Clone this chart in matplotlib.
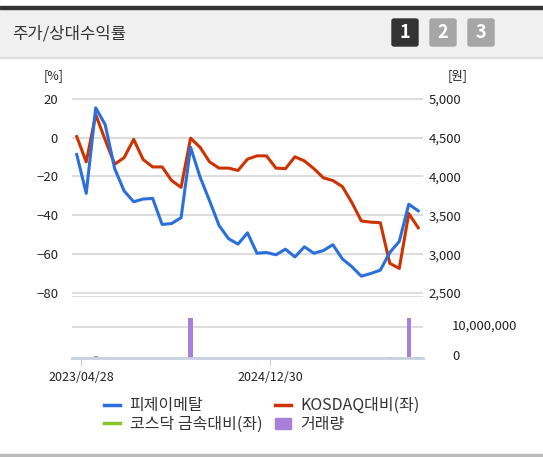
import matplotlib.pyplot as plt
from matplotlib.patches import Rectangle, FancyBboxPatch
from matplotlib.lines import Line2D

plt.rcParams['font.family'] = ['Noto Sans CJK KR', 'DejaVu Sans']

# weekly-ish points, index 0..36
stock = [-8.7, -28.7, 15.3, 6.6, -16, -27.5, -33, -31.6, -31.3, -44.7, -44.2, -41.2,
         -5, -20.3, -32.5, -45.2, -52, -54.8, -49, -59.5, -59.1, -60.3, -57.4, -61.4,
         -56.2, -59.5, -58.1, -55.1, -62.4, -66.4, -71.3, -69.9, -68.2, -59.1, -53.4,
         -34.3, -37.7]
kosdaq = [0.5, -12.5, 11.8, -1.2, -13.7, -10.3, -0.9, -11.3, -15.1, -15.1, -22.1, -25.6,
          -0.3, -5, -12.5, -15.7, -15.7, -16.9, -11.1, -9.4, -9.4, -15.7, -16, -9.9,
          -12, -16, -20.7, -22.1, -25.2, -33.4, -42.9, -43.5, -43.8, -64.7, -67.3,
          -39.1, -46.4]
volume = [0, 0, 500000, 0, 0, 0, 0, 0, 0, 0, 0, 0,
          13000000, 300000, 0, 0, 0, 0, 0, 0, 0, 0, 0, 0,
          0, 0, 0, 0, 0, 0, 0, 0, 0, 300000, 0, 13000000, 300000]
x = list(range(len(stock)))
tick_pos = [0.45, 20.4]
tick_labels = ['2023/04/28', '2024/12/30']

W, H = 543, 457
fig = plt.figure(figsize=(W / 100, H / 100), dpi=100)

def fx(px):
    return px / W

def fy(py):
    return 1 - py / H

# header
fig.patches.append(Rectangle((0, fy(57)), 1, 49 / H, transform=fig.transFigure, color='#f0f0f0'))
fig.patches.append(Rectangle((0, fy(9)), 1, 3 / H, transform=fig.transFigure, color='#333333'))
fig.patches.append(Rectangle((0, fy(58)), 1, 1 / H, transform=fig.transFigure, color='#dddddd'))
fig.patches.append(Rectangle((0, 0), 1, 3 / H, transform=fig.transFigure, color='#bbbbbb'))
fig.text(fx(12), fy(34), '주가/상대수익률', fontsize=12, color='#333333', va='center')
for i, (bx, c) in enumerate([(392, '#333333'), (430, '#a6a6a6'), (468, '#a6a6a6')]):
    fig.patches.append(FancyBboxPatch((fx(bx), fy(46)), 26 / W, 27 / H, transform=fig.transFigure,
                                      boxstyle='round,pad=0,rounding_size=0.004', color=c))
    fig.text(fx(bx + 13), fy(33), str(i + 1), color='white', fontsize=13, fontweight='bold',
             ha='center', va='center')

# main axes
ax = fig.add_axes([fx(72), fy(297), (423 - 72) / W, (297 - 88) / H])
ax.set_xlim(-0.5, 36.5)
ax.set_ylim(-82, 25.5)
for v in [20, 0, -20, -40, -60, -80]:
    ax.axhline(v, color='#dddddd', lw=1.5, zorder=0)
ax.plot(x, stock, color='#2a6fdb', lw=2.2, zorder=3)
ax.plot(x, kosdaq, color='#cc3300', lw=2.2, zorder=2)
ax.set_yticks([20, 0, -20, -40, -60, -80])
ax.tick_params(axis='y', length=0, labelsize=9.5, colors='#222222', pad=10)
ax.set_xticks([])
for s in ax.spines.values():
    s.set_visible(False)
ax.axhline(-82, color='#dddddd', lw=1.5)
ax2 = ax.twinx()
ax2.set_ylim(4500 + 25 * -82, 4500 + 25 * 25.5)
ax2.set_yticks([5000, 4500, 4000, 3500, 3000, 2500])
ax2.set_yticklabels(['5,000', '4,500', '4,000', '3,500', '3,000', '2,500'])
ax2.tick_params(axis='y', length=0, labelsize=9.5, colors='#222222', pad=4)
for s in ax2.spines.values():
    s.set_visible(False)
fig.text(fx(44), fy(76), '[%]', fontsize=9, color='#222222', va='center')
fig.text(fx(448), fy(76), '[원]', fontsize=9, color='#222222', va='center')

# volume axes
vx = fig.add_axes([fx(72), fy(358), (423 - 72) / W, (358 - 318) / H])
vx.set_xlim(-0.5, 36.5)
vx.set_ylim(0, 13000000)
vx.bar(x, volume, width=0.45, color='#a97fdc')
vx.axhline(10000000, color='#dddddd', lw=1.5, zorder=0)
vx.set_yticks([])
vx.set_xticks(tick_pos)
vx.set_xticklabels(tick_labels)
vx.tick_params(axis='x', length=6, color='#c8d0e0', labelsize=9, colors='#222222')
for s in vx.spines.values():
    s.set_visible(False)
vx.spines['bottom'].set_visible(True)
vx.spines['bottom'].set_color('#c8d0e0')
vx.spines['bottom'].set_linewidth(2)
fig.text(fx(452), fy(326), '10,000,000', fontsize=9.5, color='#222222', va='center')
fig.text(fx(452), fy(357), '0', fontsize=9.5, color='#222222', va='center')

# legend filled column-wise, so order gives row-wise reading
handles = [Line2D([], [], color='#2a6fdb', lw=2.5), Line2D([], [], color='#88c425', lw=2.5),
           Line2D([], [], color='#cc3300', lw=2.5), Rectangle((0, 0), 1, 1, color='#a97fdc')]
labels = ['피제이메탈', '코스닥 금속대비(좌)', 'KOSDAQ대비(좌)', '거래량']
fig.legend(handles, labels, ncol=2, loc='center', bbox_to_anchor=(fx(262), fy(415)),
           frameon=False, fontsize=11.5, handlelength=1.0, columnspacing=0.8,
           handletextpad=0.6, labelspacing=0.1, labelcolor='#333333')

fig.savefig('out.png', dpi=100)
